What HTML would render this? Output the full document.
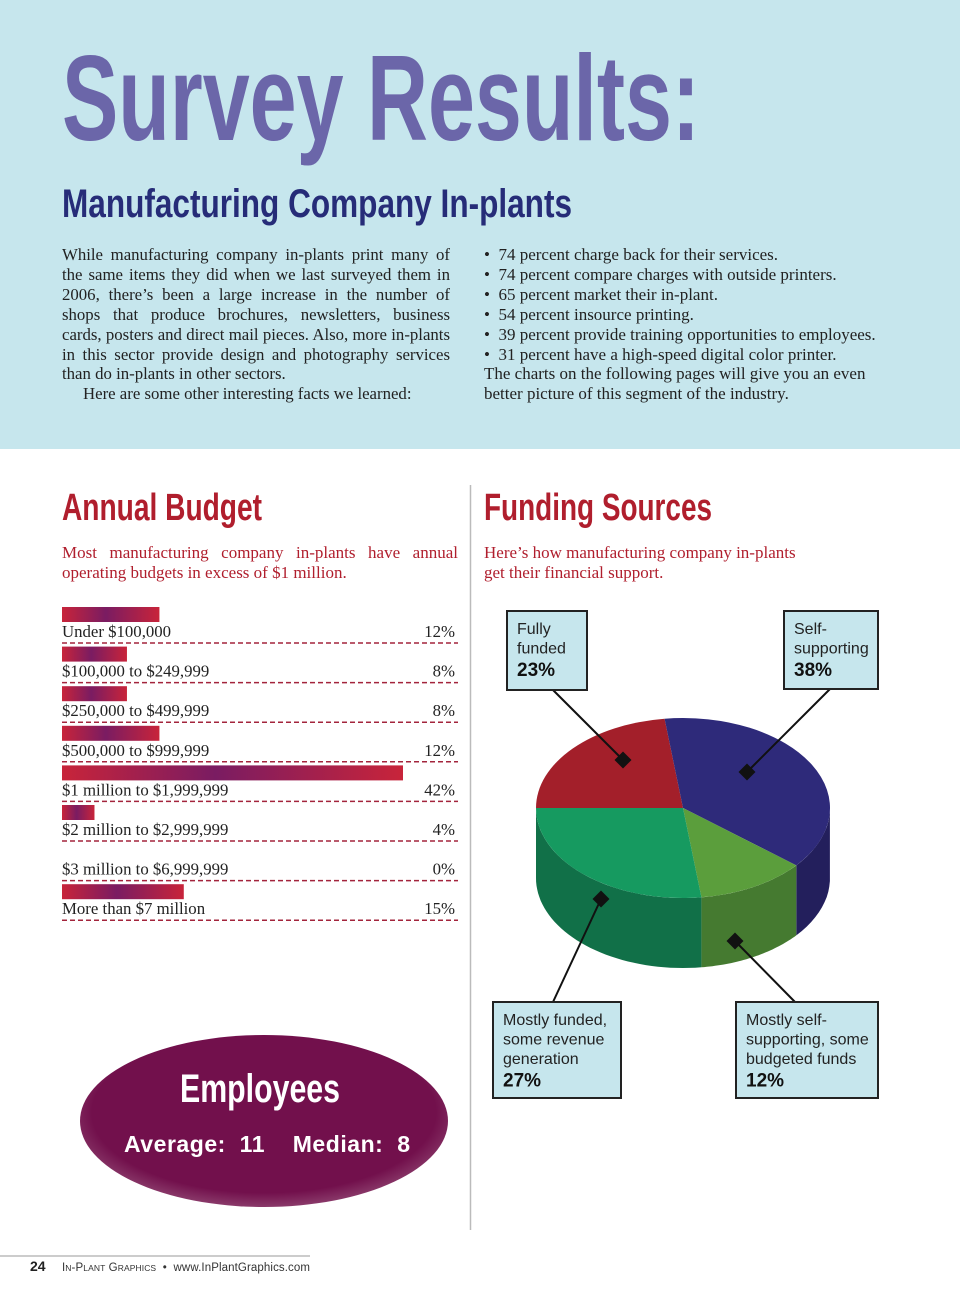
<!DOCTYPE html>
<html><head><meta charset="utf-8">
<style>
body{margin:0;width:960px;height:1301px;position:relative;background:#fff;overflow:hidden;font-family:"Liberation Serif",serif}
.abs{position:absolute}
.body{font-size:17px;line-height:19.9px;color:#222}
</style></head><body>
<div class="abs" style="left:0;top:0;width:960px;height:449px;background:#c6e6ed"></div>
<svg class="abs" style="left:0;top:0" width="960" height="1301">
<defs>
<linearGradient id="bg" x1="0" x2="1"><stop offset="0" stop-color="#c8243a"/><stop offset="0.45" stop-color="#7a1c62"/><stop offset="1" stop-color="#c8243a"/></linearGradient>
<radialGradient id="eg" cx="0.5" cy="0.45" r="0.55"><stop offset="0.85" stop-color="#72104c"/><stop offset="1" stop-color="#8a3a6a"/></radialGradient>
</defs>
<text x="62" y="140" font-family="Liberation Sans" font-weight="bold" font-size="122" fill="#6b66a9" textLength="638" lengthAdjust="spacingAndGlyphs">Survey Results:</text>
<text x="62" y="217" font-family="Liberation Sans" font-weight="bold" font-size="40" fill="#262c78" textLength="510" lengthAdjust="spacingAndGlyphs">Manufacturing Company In-plants</text>
<text x="62" y="520" font-family="Liberation Sans" font-weight="bold" font-size="38" fill="#b01e2d" textLength="200" lengthAdjust="spacingAndGlyphs">Annual Budget</text>
<text x="484" y="520" font-family="Liberation Sans" font-weight="bold" font-size="38" fill="#b01e2d" textLength="228" lengthAdjust="spacingAndGlyphs">Funding Sources</text>
<line x1="470.5" y1="485" x2="470.5" y2="1230" stroke="#bbb" stroke-width="1.5"/>
<g id="bars"></g>
<g id="pie"></g>
<ellipse cx="264" cy="1121" rx="184" ry="86" fill="url(#eg)"/>
<text x="260" y="1102" text-anchor="middle" font-family="Liberation Sans" font-weight="bold" font-size="40" fill="#fff" textLength="160" lengthAdjust="spacingAndGlyphs">Employees</text>
<text x="124" y="1152" font-family="Liberation Sans" font-weight="bold" font-size="23" fill="#fff" textLength="286" xml:space="preserve">Average:  11    Median:  8</text>
<line x1="0" y1="1256" x2="310" y2="1256" stroke="#999" stroke-width="1"/>
<text x="30" y="1271" font-family="Liberation Sans" font-weight="bold" font-size="14" fill="#222">24</text>
<text x="62" y="1271" font-family="Liberation Sans" font-size="11.5" fill="#333" textLength="248" xml:space="preserve">I<tspan font-size="8.5">N</tspan>-P<tspan font-size="8.5">LANT</tspan> G<tspan font-size="8.5">RAPHICS</tspan>  •  www.InPlantGraphics.com</text>
</svg>
<div class="abs body" style="left:62px;top:245px;width:388px;text-align:justify;font-size:16.8px">While manufacturing company in-plants print many of the same items they did when we last surveyed them in 2006, there’s been a large increase in the number of shops that produce brochures, newsletters, business cards, post­ers and direct mail pieces. Also, more in-plants in this sector provide design and photography services than do in-plants in other sectors.<br><span style="padding-left:21px">Here are some other interesting facts we learned:</span></div>
<div class="abs body" style="left:484px;top:245px;width:400px">
•&nbsp; 74 percent charge back for their services.<br>•&nbsp; 74 percent compare charges with outside printers.<br>•&nbsp; 65 percent market their in-plant.<br>•&nbsp; 54 percent insource printing.<br>•&nbsp; 39 percent provide training opportunities to employees.<br>•&nbsp; 31 percent have a high-speed digital color printer.<br>The charts on the following pages will give you an even better picture of this segment of the industry.</div>
<div class="abs body" style="left:62px;top:543px;width:396px;color:#b01e2d;text-align:justify;text-align-last:left">Most manufacturing company in-plants have annual operating budgets in excess of $1 million.</div>
<div class="abs body" style="left:484px;top:543px;width:320px;color:#b01e2d">Here’s how manufacturing company in-plants get their financial support.</div>
<script>
const categories=["Under $100,000","$100,000 to $249,999","$250,000 to $499,999","$500,000 to $999,999","$1 million to $1,999,999","$2 million to $2,999,999","$3 million to $6,999,999","More than $7 million"];
const budgetValues=[12,8,8,12,42,4,0,15];
const pieLabels=[["Fully","funded"],["Self-","supporting"],["Mostly self-","supporting, some","budgeted funds"],["Mostly funded,","some revenue","generation"]];
const pieValues=[23,38,12,27];
const NS="http://www.w3.org/2000/svg";
function mk(tag,attrs,parent){const e=document.createElementNS(NS,tag);for(const k in attrs)e.setAttribute(k,attrs[k]);parent.appendChild(e);return e;}
const bars=document.getElementById('bars');
const x0=62,pxPer=341/42,rowH=39.6,top0=607;
function xs(v){return v*pxPer;}
budgetValues.forEach((v,i)=>{
 const y=top0+i*rowH;
 if(v>0){const r=mk('rect',{x:x0,y:y,width:xs(v),height:15,fill:'url(#bg)'},bars);
 
 }
 const t=mk('text',{x:x0,y:y+30,'font-family':'Liberation Serif','font-size':16.8,fill:'#222'},bars);t.textContent=categories[i];
 
 
 const p=mk('text',{x:455,y:y+30,'text-anchor':'end','font-family':'Liberation Serif','font-size':16.8,fill:'#222'},bars);p.textContent=v+'%';
 
 
 const l=mk('line',{x1:62,x2:458,y1:y+36,y2:y+36,stroke:'#a3243c','stroke-width':1.5,'stroke-dasharray':'5,3'},bars);
 
 
});
const pie=document.getElementById('pie');
const cx=683,cy=808,rx=147,ry=90,dep=70;
const topC=["#a31f2a","#2e2a7a","#5b9e3c","#169a60"];
const sideC=["#7e1620","#231f5c","#457a30","#117048"];
function pt(a,d){return [cx+rx*Math.cos(a),cy+ry*Math.sin(a)+(d||0)];}
let ang=Math.PI,angles=[];
const total=pieValues.reduce((a,b)=>a+b,0);
pieValues.forEach(v=>{const a1=ang+v/total*2*Math.PI;angles.push([ang,a1]);ang=a1;});
angles.forEach(([a0,a1],i)=>{
 const N=40;let pts=[];
 for(let k=0;k<=N;k++){const a=a0+(a1-a0)*k/N;const s=Math.sin(a);if(s>=-0.02)pts.push(a);}
 if(pts.length<2)return;
 let d='';pts.forEach((a,k)=>{const p=pt(a);d+=(k?'L':'M')+p[0].toFixed(1)+','+p[1].toFixed(1);});
 for(let k=pts.length-1;k>=0;k--){const p=pt(pts[k],dep);d+='L'+p[0].toFixed(1)+','+p[1].toFixed(1);}
 const s=mk('path',{d:d+'Z',fill:sideC[i]},pie);
 
 
});
angles.forEach(([a0,a1],i)=>{
 const p0=pt(a0),p1=pt(a1);const large=(a1-a0)>Math.PI?1:0;
 const s=mk('path',{d:`M${cx},${cy}L${p0[0]},${p0[1]}A${rx},${ry} 0 ${large} 1 ${p1[0]},${p1[1]}Z`,fill:topC[i]},pie);
 
 
});
const boxes=[{x:507,y:611,w:80,h:79,lx:553,ly:690},{x:784,y:611,w:94,h:78,lx:830,ly:689},{x:736,y:1002,w:142,h:96,lx:795,ly:1002},{x:493,y:1002,w:128,h:96,lx:553,ly:1002}];
const anchors=[[623,760],[747,772],[735,941],[601,899]];
boxes.forEach((b,i)=>{
 const l=mk('line',{x1:b.lx,y1:b.ly,x2:anchors[i][0],y2:anchors[i][1],stroke:'#111','stroke-width':2},pie);
 
 
 const m=mk('rect',{x:anchors[i][0]-6,y:anchors[i][1]-6,width:12,height:12,fill:'#111',transform:`rotate(45 ${anchors[i][0]} ${anchors[i][1]})`},pie);
 
 
 const r=mk('rect',{x:b.x,y:b.y,width:b.w,height:b.h,fill:'#c6e6ed',stroke:'#222','stroke-width':2},pie);
 
 
 const lines=pieLabels[i];
 lines.forEach((s,k)=>{const t=mk('text',{x:b.x+10,y:b.y+23+k*19.5,'font-family':'Liberation Sans','font-size':16,fill:'#222'},pie);t.textContent=s;
  
  });
 const t=mk('text',{x:b.x+10,y:b.y+23+lines.length*19.5+3,'font-family':'Liberation Sans','font-weight':'bold','font-size':19,fill:'#111'},pie);t.textContent=pieValues[i]+'%';
 
 
});
</script>
</body></html>
